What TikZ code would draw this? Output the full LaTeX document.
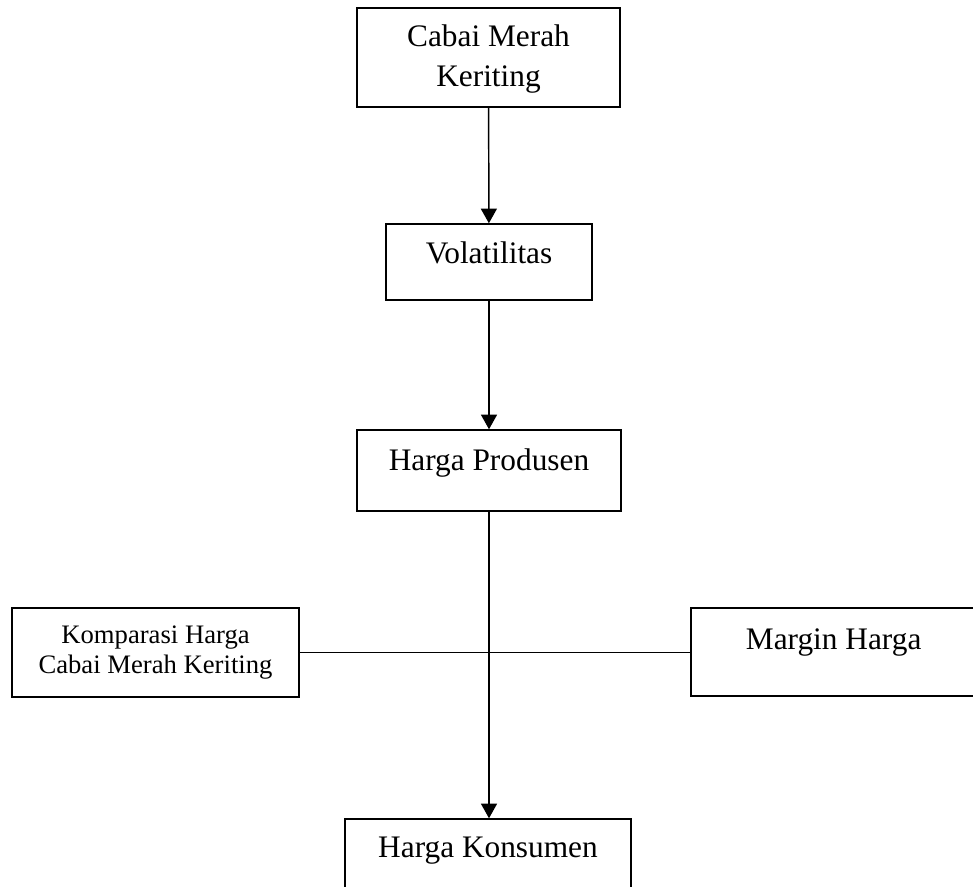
\documentclass[tikz,border=0pt]{standalone}
\usepackage{fontspec}
\setmainfont{Liberation Serif}
\usepackage{tikz}
\usetikzlibrary{calc}
\usetikzlibrary{arrows.meta}

\begin{document}
\begin{tikzpicture}[x=0.75pt, y=-0.75pt,
  box/.style={draw, line width=1.1pt, rectangle, inner sep=0pt, align=center,
    font=\fontsize{23.5}{30.5}\selectfont},
  link/.style={line width=1.1pt},
  >={Triangle[width=12pt, length=11pt]}]
\useasboundingbox (0,0) rectangle (973,886);
\clip (0,0) rectangle (973,886);

\node [box, minimum width=263*0.75pt, minimum height=99*0.75pt, text depth=3pt] (cabai) at (488.5,57.5) {Cabai Merah\\Keriting};
\node [box, minimum width=206*0.75pt, minimum height=76*0.75pt, text depth=14pt] (vol) at (489,262) {Volatilitas};
\node [box, minimum width=264*0.75pt, minimum height=81*0.75pt, text depth=17pt] (prod) at (489,470.5) {Harga Produsen};

\node [box, minimum width=287*0.75pt, minimum height=89*0.75pt,
  font=\fontsize{20}{22.5}\selectfont] (komp) at (155.5,652.5) {Komparasi Harga\\Cabai Merah Keriting};
% box runs past the right edge of the page
\node [box, minimum width=300*0.75pt, minimum height=88*0.75pt, text depth=20pt] (margin) at (841,652) {Margin Harga\hspace*{11pt}};

\node [box, minimum width=286*0.75pt, minimum height=80*0.75pt, text depth=18pt] (kons) at (488,859) {Harga Konsumen};

\draw [link, ->] (cabai) -- (vol);
\draw [link, ->] (vol) -- (prod);
\draw [link, ->] (prod.south) -- (prod.south |- kons.north);
\draw [link] (komp.east) -- (komp.east -| margin.west);

\end{tikzpicture}
\end{document}
